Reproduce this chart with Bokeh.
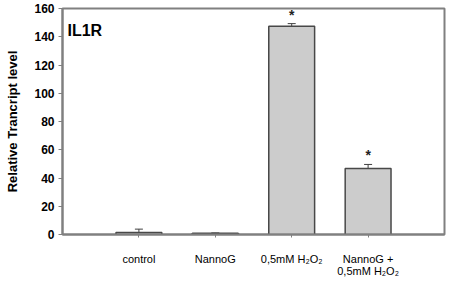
from bokeh.plotting import figure
from bokeh.models import ColumnDataSource, Range1d, FixedTicker, Whisker, Label
from bokeh.core.properties import value
from bokeh.embed import file_html
from bokeh.resources import INLINE

categories = ["control", "NannoG", "0,5mM H\u2082O\u2082", "NannoG +\n0,5mM H\u2082O\u2082"]
positions = [1, 2, 3, 4]
levels = [1.5, 0.8, 147.5, 46.8]
errors = [2.3, 0.3, 1.8, 2.8]
marks = ["", "", "*", "*"]
y_ticks = [0, 20, 40, 60, 80, 100, 120, 140, 160]

upper = [v + e for v, e in zip(levels, errors)]
lower = [v - e for v, e in zip(levels, errors)]
src = ColumnDataSource(dict(x=positions, top=levels, upper=upper, lower=lower, mark=marks))

p = figure(width=446, height=280, output_backend="svg", toolbar_location=None,
           x_range=Range1d(0, 5), y_range=Range1d(0, 160),
           min_border_left=62, min_border_right=2, min_border_top=8, min_border_bottom=38)
p.grid.visible = False
p.outline_line_color = "#808080"
p.outline_line_width = 2
p.background_fill_color = "white"
p.border_fill_color = "white"

w = Whisker(base="x", upper="upper", lower="lower", source=src, line_color="#404040",
            line_width=1)
w.upper_head.size = 8
w.upper_head.line_color = "#404040"
w.lower_head = None
p.add_layout(w)

p.vbar(x="x", top="top", bottom=0, width=0.6, source=src, fill_color="#cccccc",
       line_color="#484848", line_width=1.5)

p.text(x="x", y="upper", text="mark", source=src, text_align="center",
       text_baseline="bottom", y_offset=-1, text_font=value("Liberation Sans"),
       text_font_size="14px", text_font_style="bold", text_color="#222222")

# y axis
ya = p.yaxis[0]
ya.ticker = FixedTicker(ticks=y_ticks)
ya.minor_tick_line_color = None
ya.major_tick_in = 0
ya.major_tick_out = 4
ya.axis_line_color = "#808080"
ya.axis_line_width = 2
ya.major_tick_line_color = "#808080"
ya.major_label_text_font = "Liberation Sans"
ya.major_label_text_font_style = "bold"
ya.major_label_text_font_size = "12px"
ya.major_label_text_color = "black"
ya.major_label_standoff = 4
ya.axis_label = "Relative Trancript level"
ya.axis_label_text_font = "Liberation Sans"
ya.axis_label_text_font_style = "bold"
ya.axis_label_text_font_size = "13px"
ya.axis_label_text_color = "black"
ya.axis_label_standoff = 11

# x axis
xa = p.xaxis[0]
xa.ticker = FixedTicker(ticks=positions)
xa.major_label_overrides = {pos: lab for pos, lab in zip(positions, categories)}
xa.minor_tick_line_color = None
xa.major_tick_in = 0
xa.major_tick_out = 3
xa.axis_line_color = "#808080"
xa.axis_line_width = 2
xa.major_tick_line_color = "#808080"
xa.major_label_text_font = "Liberation Sans"
xa.major_label_text_font_size = "11px"
xa.major_label_text_line_height = 1.05
xa.major_label_text_color = "black"
xa.major_label_standoff = 15

title = Label(x=0.065, y=144.5, text="IL1R",
              text_font="Liberation Sans", text_font_style="bold",
              text_font_size="16px", text_baseline="alphabetic", text_color="black")
p.add_layout(title)

open("out.html", "w").write(file_html(p, INLINE))
